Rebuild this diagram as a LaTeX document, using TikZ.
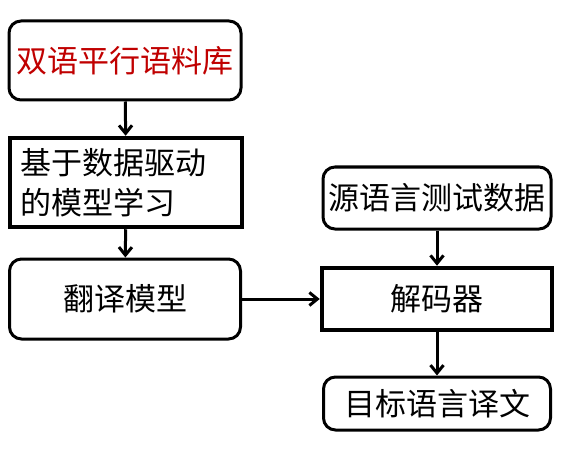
\documentclass[tikz,border=0pt]{standalone}
\usepackage{fontspec}
\newfontfamily\cjk{Noto Sans CJK SC}
\usepackage{xcolor}
\usepackage{tikz}
\usetikzlibrary{positioning,arrows.meta}
\definecolor{corpusred}{RGB}{192,0,0}

\begin{document}
\begin{tikzpicture}[
						x=1pt, y=-1pt,
						every node/.style={
							inner sep=0pt,
							font=\cjk\fontsize{31}{40}\selectfont
						},
						% Khung bo tròn
						round_box/.style={
							draw=black, line width=3pt, rounded corners=12pt
						},
						% Khung viền đậm
						bold_box/.style={
							draw=black, line width=4.5pt
						},
						% Mũi tên nối
						flow_arrow/.style={
							-{Straight Barb[length=8pt,width=13pt]}, line width=3pt
						}
						]
						\useasboundingbox (0,0) rectangle (572,449);
						
						% Cột trái
						\node[round_box, minimum width=232pt, minimum height=79pt, text=corpusred] (corpus) at (125,60.5) {双语平行语料库};
						\node[bold_box, minimum width=232pt, minimum height=89pt, text width=212pt, align=left] (learning) at (126,182.5) {基于数据驱动\\的模型学习};
						\node[round_box, minimum width=231pt, minimum height=80pt] (model) at (125,299) {翻译模型};
						
						% Cột phải
						\node[round_box, minimum width=228pt, minimum height=62pt] (testdata) at (437,198) {源语言测试数据};
						\node[bold_box, minimum width=230pt, minimum height=62pt] (decoder) at (437,299) {解码器};
						\node[round_box, minimum width=227pt, minimum height=53pt] (target) at (437,403.5) {目标语言译文};
						
						% Các mũi tên
						\draw[flow_arrow] (corpus) -- (learning);
						\draw[flow_arrow] (learning) -- (model);
						\draw[flow_arrow] (model) -- (decoder);
						\draw[flow_arrow] (testdata) -- (decoder);
						\draw[flow_arrow] (decoder) -- (target);
						
					\end{tikzpicture}
\end{document}
